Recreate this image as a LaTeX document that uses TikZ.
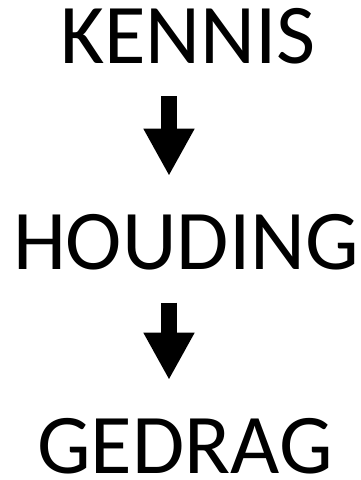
\documentclass[tikz,border=0pt]{standalone}
\usepackage{fontspec}
\setmainfont{Carlito}
\usetikzlibrary{arrows.meta,positioning}
\tikzstyle{word}=[inner sep=0pt,anchor=base,font=\fontsize{85}{100}\selectfont]
\tikzstyle{arr}=[line width=15.7pt,-{Triangle[length=47.3pt,width=47.7pt]},shorten <=32.4pt,shorten >=38pt]

\begin{document}
\begin{tikzpicture}[x=1pt,y=1pt]
\useasboundingbox (0,0) rectangle (361,480);
\node (kennis) [word] at (188,416.7) {KENNIS};
\node (houding) [word] at (186,210.7) {HOUDING};
\node (gedrag) [word] at (185,6.7) {GEDRAG};
\coordinate (axis) at (169,0);
\draw [arr] (axis |- kennis.south) -- (axis |- houding.north);
\draw [arr] (axis |- houding.south) -- (axis |- gedrag.north);
\end{tikzpicture}
\end{document}
